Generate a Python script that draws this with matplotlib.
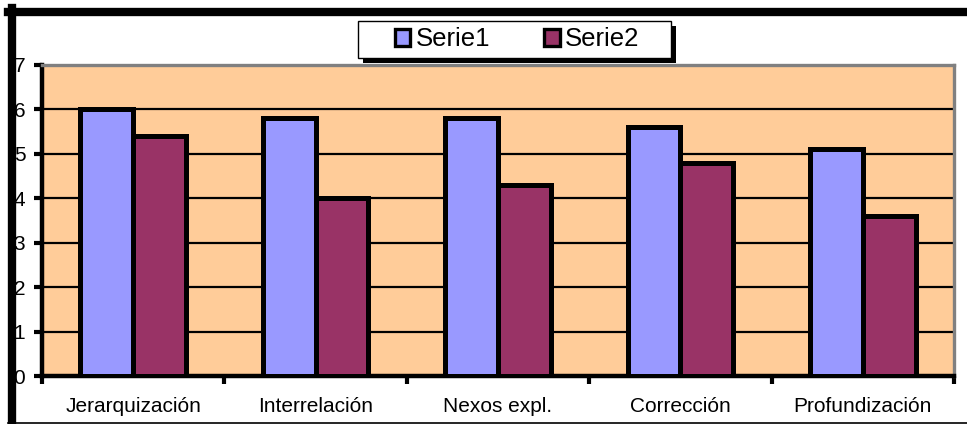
import matplotlib.pyplot as plt
import numpy as np
from matplotlib.lines import Line2D
from matplotlib.patches import Rectangle

categories = ['Jerarquización', 'Interrelación', 'Nexos expl.', 'Corrección', 'Profundización']
serie1 = [6.0, 5.8, 5.8, 5.6, 5.1]
serie2 = [5.4, 4.0, 4.3, 4.8, 3.6]

plt.rcParams['font.family'] = ['Liberation Sans', 'DejaVu Sans']

W, H = 967, 424
fig = plt.figure(figsize=(W / 100, H / 100), dpi=100)
ax = fig.add_axes([0.0434, 0.1132, 0.9432, 0.7335])
ax.set_facecolor('#FFCC99')

x = np.arange(len(categories))
w = 0.29
ax.bar(x - w / 2, serie1, w, color='#9999FF', edgecolor='black', linewidth=3.6,
       label='Serie1', zorder=3)
ax.bar(x + w / 2, serie2, w, color='#993366', edgecolor='black', linewidth=3.6,
       label='Serie2', zorder=3)

ax.set_xlim(-0.5, len(categories) - 0.5)
ax.set_ylim(0, 7)
ax.set_yticks(range(8))
ax.yaxis.grid(True, color='black', linewidth=1.6, zorder=1)

# category boundaries as ticks, names centred between them
ax.set_xticks(np.arange(-0.5, len(categories), 1.0))
ax.set_xticklabels([])
ax.set_xticks(x, minor=True)
ax.set_xticklabels(categories, minor=True, fontsize=15)
ax.tick_params(axis='x', which='major', length=6, width=3, direction='out')
ax.tick_params(axis='x', which='minor', length=0, pad=15)
ax.tick_params(axis='y', length=6, width=3, direction='out', pad=6, labelsize=15)

for s in ['left', 'bottom']:
    ax.spines[s].set_linewidth(3.2)
    ax.spines[s].set_color('black')
for s in ['top', 'right']:
    ax.spines[s].set_linewidth(2.4)
    ax.spines[s].set_color('#808080')

# legend box with hard black shadow
bx0, bx1, by0, by1 = 358, 671, 21, 58
fig.add_artist(Rectangle(((bx0 + 5) / W, 1 - (by1 + 5) / H), (bx1 - bx0) / W, (by1 - by0) / H,
                         facecolor='black', edgecolor='none', transform=fig.transFigure,
                         zorder=4))
fig.add_artist(Rectangle((bx0 / W, 1 - by1 / H), (bx1 - bx0) / W, (by1 - by0) / H,
                         facecolor='white', edgecolor='black', linewidth=1.0,
                         transform=fig.transFigure, zorder=4.5))
leg = fig.legend(loc='center', bbox_to_anchor=(517 / W, 1 - 39.5 / H), ncol=2, fontsize=18.5,
                 frameon=False, handlelength=0.62, handleheight=0.62, handletextpad=0.2,
                 columnspacing=2.1, borderpad=0.2, borderaxespad=0)
leg.set_zorder(5)
for h in leg.legend_handles:
    h.set_linewidth(2.4)

# outer chart frame
fig.add_artist(Line2D([12 / W, 12 / W], [1 - 8 / H, 1 - 423 / H], color='black',
                      linewidth=6, transform=fig.transFigure))
fig.add_artist(Line2D([8 / W, 1.0], [1 - 12 / H, 1 - 12 / H], color='black',
                      linewidth=6, transform=fig.transFigure))
fig.add_artist(Line2D([8 / W, 1.0], [1 - 422.5 / H, 1 - 422.5 / H], color='black',
                      linewidth=1.2, transform=fig.transFigure))

fig.savefig('out.png', dpi=100)
